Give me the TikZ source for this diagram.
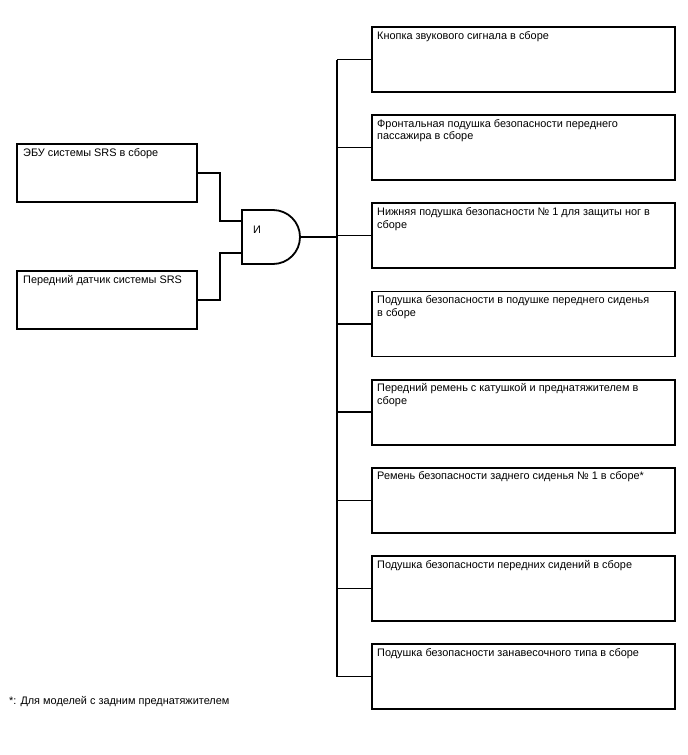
\documentclass[tikz,border=0pt]{standalone}
\usepackage{fontspec}
\setmainfont{Liberation Sans}
\begin{document}
\begin{tikzpicture}[x=1pt,y=-1pt,
  box/.style={draw,line width=1.8pt,minimum width=303pt,minimum height=65pt,inner sep=0pt,outer sep=0pt,anchor=north west},
  lbox/.style={draw,line width=1.8pt,minimum width=180pt,minimum height=58pt,inner sep=0pt,outer sep=0pt,anchor=north west},
  lbl/.style={anchor=north west,inner sep=0pt,align=left,font=\fontsize{10.9}{12.6}\selectfont},
  wire/.style={line width=1.3pt}]
\useasboundingbox (0,0) rectangle (688,755);
% left boxes
\node[lbox] (e1) at (17,144) {};
\node[lbox] (e2) at (17,271) {};
\node[lbl] at (23,148) {ЭБУ системы SRS в сборе};
\node[lbl] at (23,275) {Передний датчик системы SRS};
% AND gate
\coordinate (g1) at (242,221);
\coordinate (g2) at (242,253);
\coordinate (gout) at (300,237);
\draw[line width=1.8pt] (242,210) -- (273,210) arc[start angle=-90,end angle=90,radius=27] -- (242,264) -- cycle;
\node[lbl] (gl) at (253,226) {И};
\draw[wire] (e1.east |- 0,173) -- (220,173) -- (220,221) -- (g1);
\draw[wire] (e2.east |- 0,300) -- (220,300) -- (220,253) -- (g2);
% right boxes
\coordinate (bus) at (337,0);
\foreach \i/\t in {0/{Кнопка звукового сигнала в сборе},
  1/{Фронтальная подушка безопасности переднего\\пассажира в сборе},
  2/{Нижняя подушка безопасности № 1 для защиты ног в\\сборе},
  3/{Подушка безопасности в подушке переднего сиденья\\в сборе},
  4/{Передний ремень с катушкой и преднатяжителем в\\сборе},
  5/{Ремень безопасности заднего сиденья № 1 в сборе*},
  6/{Подушка безопасности передних сидений в сборе},
  7/{Подушка безопасности занавесочного типа в сборе}}{
  \node[box] (r\i) at (372,{27+88.15*\i}) {};
  \node[lbl] at (377,{31+88.15*\i}) {\t};
  \draw[wire] (r\i.west) -- (r\i.west -| bus);
}
\draw[wire] (r0.west -| bus) -- (r7.west -| bus);
\draw[wire] (gout) -- (gout -| bus);
% footnote
\node[lbl] (fn) at (9,696) {*: Для моделей с задним преднатяжителем};
\end{tikzpicture}
\end{document}
